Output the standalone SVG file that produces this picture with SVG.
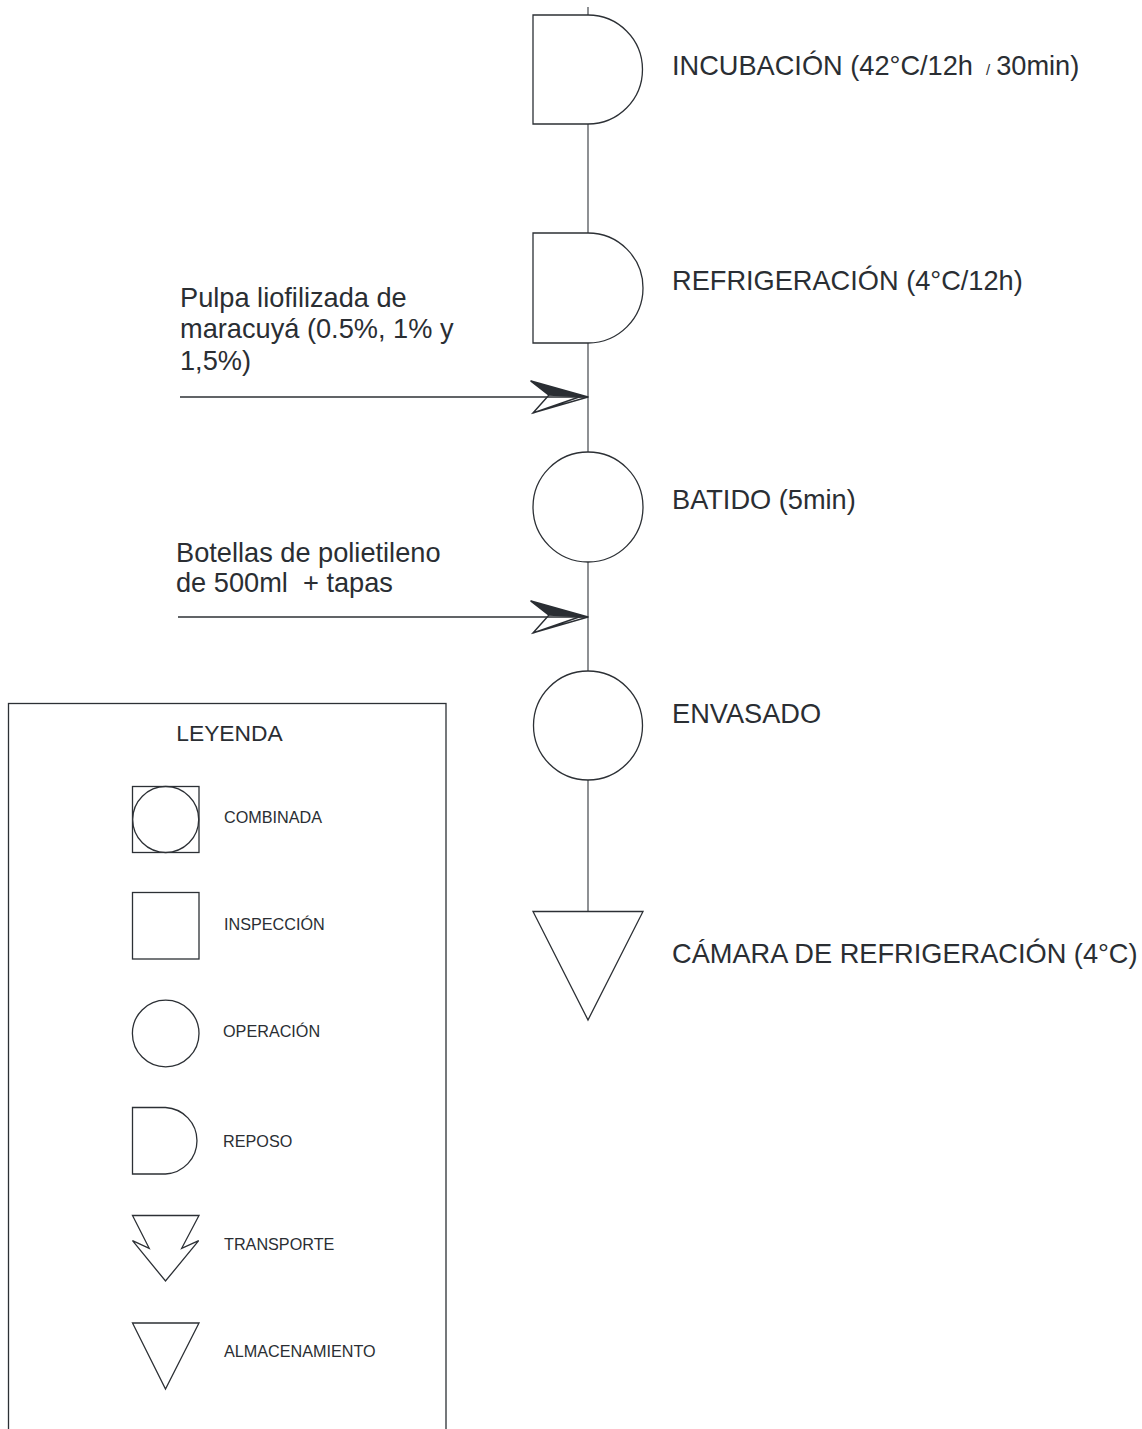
<svg xmlns="http://www.w3.org/2000/svg" width="1142" height="1429" viewBox="0 0 1142 1429">
<defs>
<style>
.bg{fill:#ffffff}
.conn{stroke:#5f6266;stroke-width:1.4;fill:none}
.feed{stroke:#2c3035;stroke-width:1.4;fill:none}
.shape{fill:#ffffff;stroke:#2c3035;stroke-width:1.3}
.lbl{font-family:"Liberation Sans",Arial,Helvetica,sans-serif;font-size:27.2px;fill:#2a2e33;white-space:pre}
.leg{font-family:"Liberation Sans",Arial,Helvetica,sans-serif;font-size:16.2px;fill:#2a2e33}
.legt{font-family:"Liberation Sans",Arial,Helvetica,sans-serif;font-size:22.8px;fill:#2a2e33}
</style>
<g id="arrowhead">
<path d="M0,0 L-57,-16 L-39,-2 Z" fill="#2a2e33" stroke="#2a2e33" stroke-width="1.6" stroke-linejoin="round"/>
<path d="M-39,-2 L-55,16 L0,0 M-55,16 L-6,-1" fill="none" stroke="#2a2e33" stroke-width="1.4"/>
</g>
</defs>
<rect class="bg" x="0" y="0" width="1142" height="1429"/>

<g id="connectors">
<line class="conn" x1="588" y1="7" x2="588" y2="911"/>
<line class="feed" x1="180" y1="397" x2="586" y2="397"/>
<use href="#arrowhead" transform="translate(588,397)"/>
<line class="feed" x1="178" y1="617" x2="586" y2="617"/>
<use href="#arrowhead" transform="translate(588,617)"/>
</g>

<g id="incubacion">
<path class="shape" d="M533,15 H588 A54.5,54.5 0 0 1 588,124 H533 Z"/>
<text class="lbl" x="672" y="75">INCUBACIÓN (42°C/12h<tspan dx="13" font-size="15">/</tspan><tspan dx="6">30min)</tspan></text>
</g>

<g id="refrigeracion">
<path class="shape" d="M533,233 H588 A55,55 0 0 1 588,343 H533 Z"/>
<text class="lbl" x="672" y="290">REFRIGERACIÓN (4°C/12h)</text>
</g>

<g id="pulpa">
<text class="lbl" x="180" y="307">Pulpa liofilizada de</text>
<text class="lbl" x="180" y="338">maracuyá (0.5%, 1% y</text>
<text class="lbl" x="180" y="370">1,5%)</text>
</g>

<g id="batido">
<circle class="shape" cx="588" cy="507" r="55"/>
<text class="lbl" x="672" y="509">BATIDO (5min)</text>
</g>

<g id="botellas">
<text class="lbl" x="176" y="562">Botellas de polietileno</text>
<text class="lbl" x="176" y="592" xml:space="preserve">de 500ml  + tapas</text>
</g>

<g id="envasado">
<circle class="shape" cx="588" cy="725.5" r="54.5"/>
<text class="lbl" x="672" y="723">ENVASADO</text>
</g>

<g id="camara">
<polygon class="shape" points="533,911.5 643,911.5 588,1020"/>
<text class="lbl" x="672" y="963">CÁMARA DE REFRIGERACIÓN (4°C)</text>
</g>

<g id="leyenda">
<rect x="8.5" y="703.5" width="437.5" height="760" fill="none" stroke="#2c3035" stroke-width="1.3"/>
<text class="legt" x="229.5" y="741" text-anchor="middle">LEYENDA</text>
<rect class="shape" x="132.5" y="786.5" width="66.5" height="66"/>
<circle class="shape" cx="165.7" cy="819.5" r="33"/>
<text class="leg" x="224" y="823">COMBINADA</text>
<rect class="shape" x="132.5" y="892.5" width="66.5" height="66.5"/>
<text class="leg" x="224" y="930">INSPECCIÓN</text>
<circle class="shape" cx="165.7" cy="1033.5" r="33.3"/>
<text class="leg" x="223" y="1037">OPERACIÓN</text>
<path class="shape" d="M132.5,1107.5 H165.5 A33.3,33.3 0 0 1 165.5,1174 H132.5 Z"/>
<text class="leg" x="223" y="1147">REPOSO</text>
<polygon class="shape" points="132.5,1215.5 199,1215.5 181.7,1248.3 198.7,1240.7 165.5,1281 132.5,1240.7 149.2,1248.3"/>
<text class="leg" x="224" y="1250">TRANSPORTE</text>
<polygon class="shape" points="132.5,1323 199,1323 165.5,1389"/>
<text class="leg" x="224" y="1357">ALMACENAMIENTO</text>
</g>
</svg>
